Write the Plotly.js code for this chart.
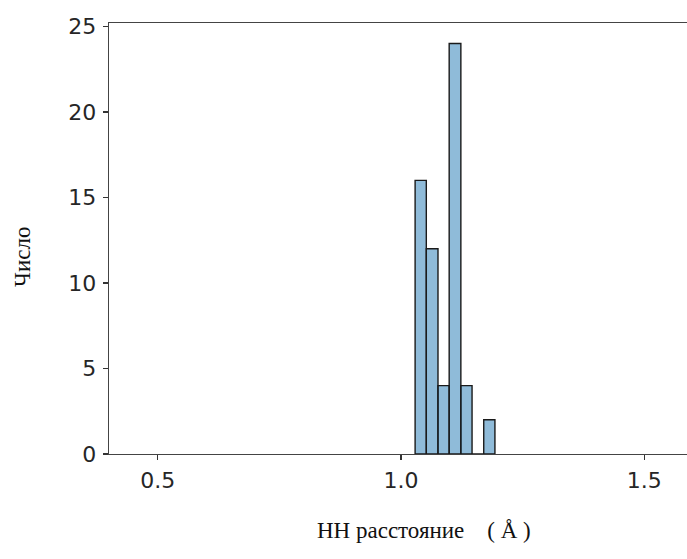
<!DOCTYPE html>
<html>
<head>
<meta charset="utf-8">
<script src="https://cdn.plot.ly/plotly-3.0.1.min.js"></script>
<style>
html, body { margin: 0; padding: 0; overflow: hidden; background: #fff; }
#chart { width: 700px; height: 559px; }
</style>
</head>
<body>
<div id="chart"></div>
<script>
// Histogram bin edges (Å) and counts
const binEdges = [1.029, 1.052, 1.076, 1.099, 1.123, 1.146, 1.170, 1.193];
const counts = [16, 12, 4, 24, 4, 0, 2];
const xTickVals = [0.5, 1.0, 1.5];
const xTickText = ['0.5', '1.0', '1.5'];
const yTickVals = [0, 5, 10, 15, 20, 25];
const xTitle = 'HH расстояние\u00A0\u00A0\u00A0 (\u00A0Å\u00A0)';
const yTitle = 'Число';

const centers = counts.map((_, i) => (binEdges[i] + binEdges[i + 1]) / 2);
const widths = counts.map((_, i) => binEdges[i + 1] - binEdges[i]);

const trace = {
  type: 'bar',
  x: centers,
  y: counts,
  width: widths,
  marker: { color: 'rgba(31,119,180,0.5)', line: { color: '#1a1a1a', width: 1.4 } },
  hoverinfo: 'x+y'
};

const axisFont = { family: 'DejaVu Sans', size: 22, color: '#262626' };
const titleFont = { family: 'Liberation Serif', size: 23, color: '#111' };

const layout = {
  width: 700,
  height: 559,
  margin: { l: 109, r: 7, t: 23, b: 105 },
  paper_bgcolor: '#fff',
  plot_bgcolor: '#fff',
  showlegend: false,
  bargap: 0,
  xaxis: {
    range: [0.4, 1.6],
    tickvals: xTickVals,
    ticktext: xTickText,
    ticks: 'outside', ticklen: 5, tickwidth: 1.2, tickcolor: '#333',
    showline: true, linecolor: '#444', linewidth: 1.3, mirror: true,
    showgrid: false, zeroline: false,
    tickfont: axisFont,
    ticklabelstandoff: 1
  },
  yaxis: {
    range: [0, 25.2],
    tickvals: yTickVals,
    ticks: 'outside', ticklen: 5, tickwidth: 1.2, tickcolor: '#333',
    showline: true, linecolor: '#444', linewidth: 1.3, mirror: true,
    showgrid: false, zeroline: false,
    tickfont: axisFont,
    ticklabelstandoff: 2
  },
  annotations: [
    { text: xTitle, xref: 'paper', yref: 'paper', x: 0.54, y: -0.178,
      xanchor: 'center', yanchor: 'middle', showarrow: false, font: titleFont },
    { text: yTitle, xref: 'paper', yref: 'paper', x: -0.149, y: 0.457,
      xanchor: 'center', yanchor: 'middle', showarrow: false, textangle: -90, font: titleFont }
  ]
};

Plotly.newPlot('chart', [trace], layout, { displayModeBar: false, staticPlot: true });
</script>
</body>
</html>
